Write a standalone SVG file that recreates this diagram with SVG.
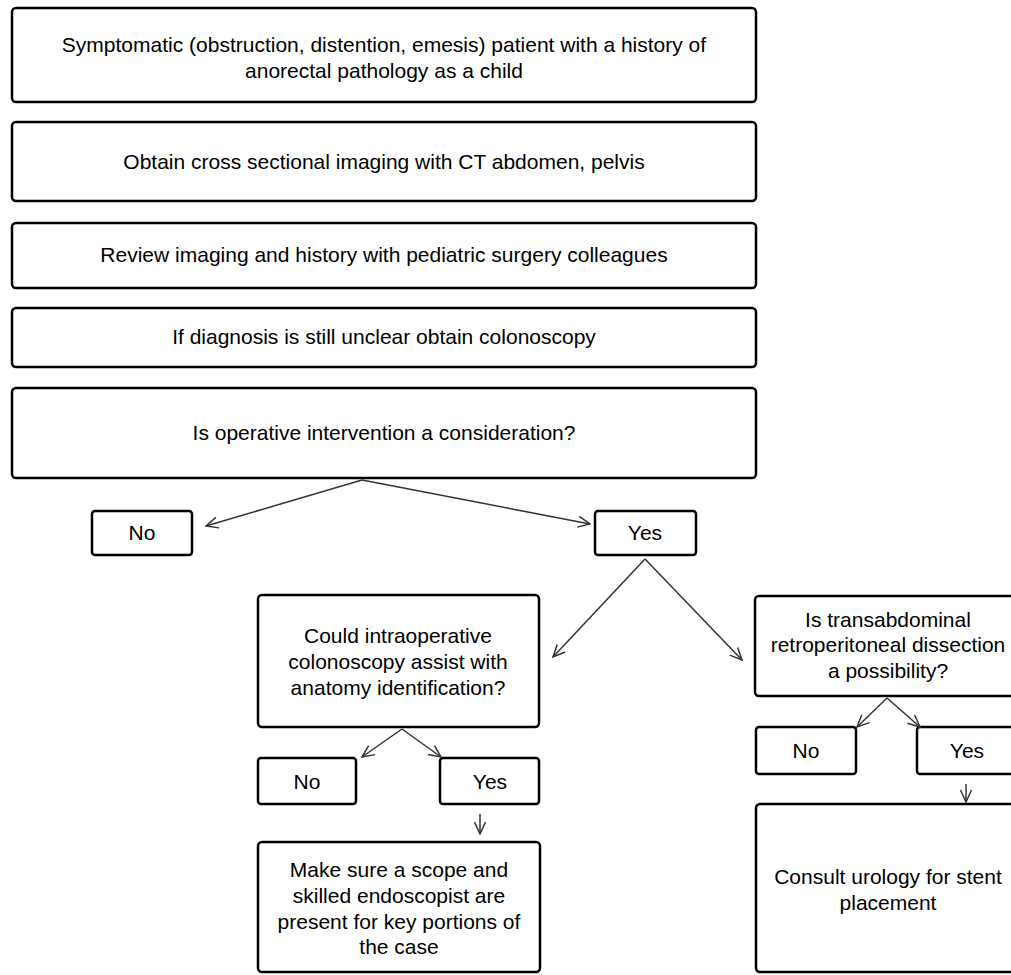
<svg xmlns="http://www.w3.org/2000/svg" width="1011" height="975" viewBox="0 0 1011 975">
<defs>
<marker id="arr" viewBox="0 0 14 14" refX="13" refY="7" markerWidth="14" markerHeight="14" markerUnits="userSpaceOnUse" orient="auto">
<path d="M1,1.5 L13,7 L1,12.5" fill="none" stroke="#333" stroke-width="1.5"/>
</marker>
<style>
.box{fill:#fff;stroke:#000;stroke-width:2.5}
.t{font-family:"Liberation Sans",Arial,sans-serif;font-size:21px;fill:#000;text-anchor:middle}
.c{stroke:#333;stroke-width:1.5;fill:none;marker-end:url(#arr)}
</style>
</defs>
<rect width="1011" height="975" fill="#fff"/>
<g id="n1"><rect class="box" x="12" y="8" width="744" height="94" rx="4"/>
<text class="t" x="384" y="52">Symptomatic (obstruction, distention, emesis) patient with a history of</text>
<text class="t" x="384" y="78">anorectal pathology as a child</text></g>
<g id="n2"><rect class="box" x="12" y="122" width="744" height="79" rx="4"/>
<text class="t" x="384" y="169">Obtain cross sectional imaging with CT abdomen, pelvis</text></g>
<g id="n3"><rect class="box" x="12" y="223" width="744" height="65" rx="4"/>
<text class="t" x="384" y="262">Review imaging and history with pediatric surgery colleagues</text></g>
<g id="n4"><rect class="box" x="12" y="308" width="744" height="59" rx="4"/>
<text class="t" x="384" y="344">If diagnosis is still unclear obtain colonoscopy</text></g>
<g id="n5"><rect class="box" x="12" y="388" width="744" height="90" rx="4"/>
<text class="t" x="384" y="440">Is operative intervention a consideration?</text></g>
<g id="n6"><rect class="box" x="92" y="511" width="100" height="44" rx="3"/>
<text class="t" x="142" y="540">No</text></g>
<g id="n7"><rect class="box" x="595" y="511" width="101" height="44" rx="3"/>
<text class="t" x="645" y="540">Yes</text></g>
<g id="n8"><rect class="box" x="258" y="595" width="281" height="132" rx="4"/>
<text class="t" x="398" y="643">Could intraoperative</text>
<text class="t" x="398" y="669">colonoscopy assist with</text>
<text class="t" x="398" y="695">anatomy identification?</text></g>
<g id="n9"><rect class="box" x="755" y="596" width="265" height="100" rx="4"/>
<text class="t" x="888" y="627">Is transabdominal</text>
<text class="t" x="888" y="652">retroperitoneal dissection</text>
<text class="t" x="888" y="678">a possibility?</text></g>
<g id="n10"><rect class="box" x="258" y="758" width="98" height="46" rx="3"/>
<text class="t" x="307" y="789">No</text></g>
<g id="n11"><rect class="box" x="440" y="758" width="99" height="46" rx="3"/>
<text class="t" x="490" y="789">Yes</text></g>
<g id="n12"><rect class="box" x="258" y="842" width="282" height="130" rx="4"/>
<text class="t" x="399" y="877">Make sure a scope and</text>
<text class="t" x="399" y="903">skilled endoscopist are</text>
<text class="t" x="399" y="929">present for key portions of</text>
<text class="t" x="399" y="954">the case</text></g>
<g id="n13"><rect class="box" x="756" y="727" width="100" height="47" rx="3"/>
<text class="t" x="806" y="758">No</text></g>
<g id="n14"><rect class="box" x="917" y="727" width="103" height="47" rx="3"/>
<text class="t" x="967" y="758">Yes</text></g>
<g id="n15"><rect class="box" x="756" y="804" width="264" height="168" rx="4"/>
<text class="t" x="888" y="884">Consult urology for stent</text>
<text class="t" x="888" y="910">placement</text></g>
<g id="connectors">
<line class="c" x1="362" y1="480" x2="206" y2="526"/>
<line class="c" x1="362" y1="480" x2="590" y2="524"/>
<line class="c" x1="645" y1="559" x2="553" y2="657"/>
<line class="c" x1="645" y1="559" x2="742" y2="660"/>
<line class="c" x1="402" y1="729" x2="362" y2="757"/>
<line class="c" x1="402" y1="729" x2="441" y2="757"/>
<line class="c" x1="480" y1="814" x2="480" y2="834"/>
<line class="c" x1="887" y1="698" x2="857" y2="727"/>
<line class="c" x1="887" y1="698" x2="920" y2="727"/>
<line class="c" x1="966" y1="784" x2="966" y2="802"/>
</g>
</svg>
